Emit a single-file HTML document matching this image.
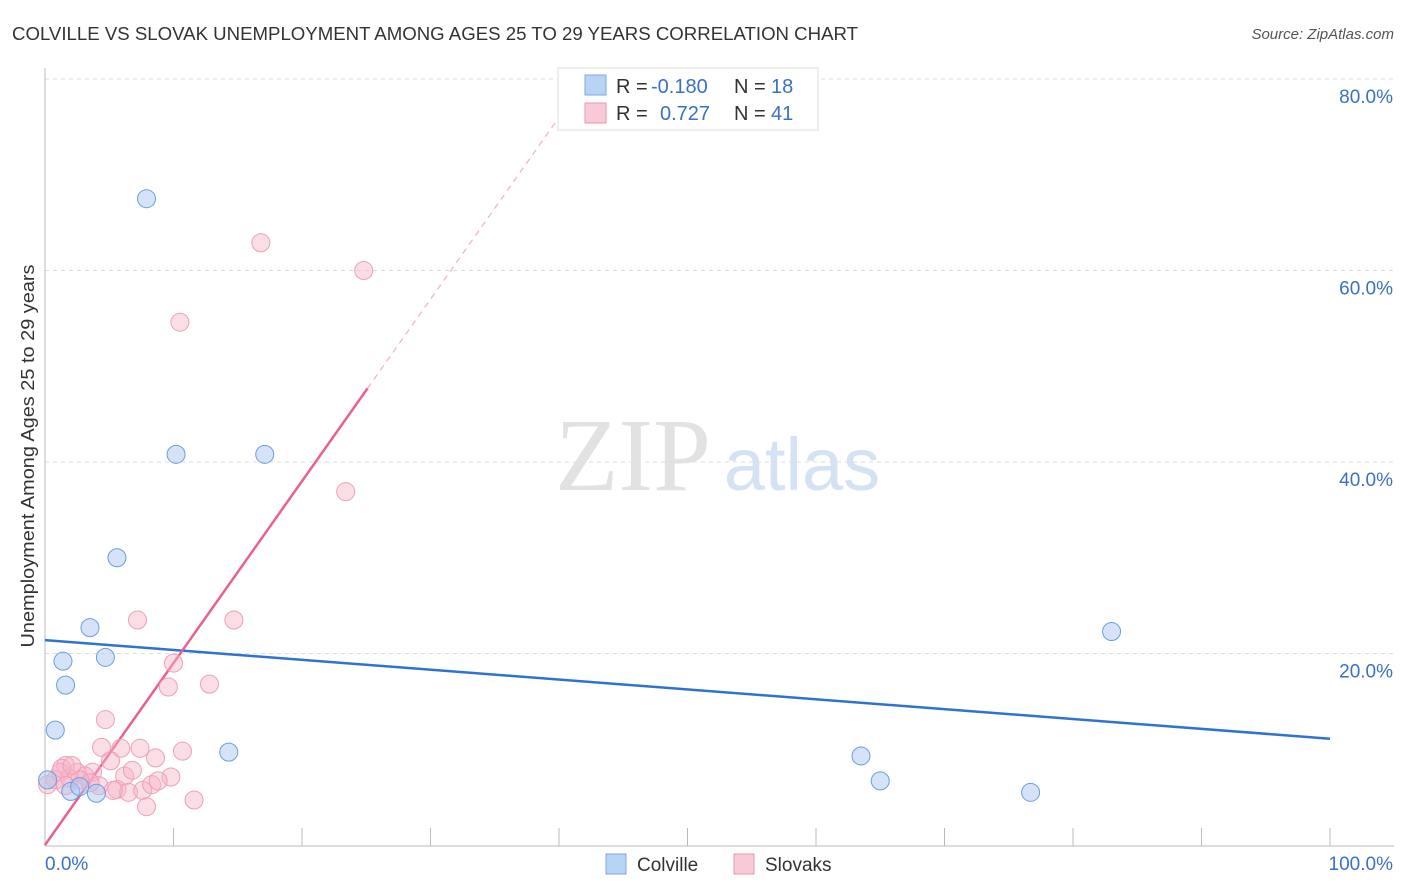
<!DOCTYPE html>
<html><head><meta charset="utf-8"><style>
body{margin:0;background:#fff;font-family:"Liberation Sans",sans-serif}
svg{display:block}
</style></head><body>
<svg id="chart" width="1406" height="892" xmlns="http://www.w3.org/2000/svg" font-family="Liberation Sans, sans-serif">
<text x="12" y="40" font-size="18" fill="#333" textLength="846" lengthAdjust="spacingAndGlyphs">COLVILLE VS SLOVAK UNEMPLOYMENT AMONG AGES 25 TO 29 YEARS CORRELATION CHART</text>
<text x="1394" y="39" font-size="15" fill="#555" font-style="italic" text-anchor="end">Source: ZipAtlas.com</text>
<text transform="translate(34,456) rotate(-90)" font-size="18" fill="#333" text-anchor="middle" textLength="383" lengthAdjust="spacingAndGlyphs">Unemployment Among Ages 25 to 29 years</text>
<g>
<text x="633" y="490" font-size="104" fill="#e2e2e2" font-family="Liberation Serif, serif" text-anchor="middle">ZIP</text>
<text x="802" y="490" font-size="74" fill="#d4e2f4" text-anchor="middle">atlas</text>
</g>
<g id="grid"></g><g id="axes"></g><g id="lines"></g><g id="pts"></g>
<g>
<rect x="558" y="68" width="260" height="62" fill="#fff" stroke="#ddd"/>
<rect x="585" y="75" width="21" height="20" fill="#b9d3f5" stroke="#7aa7e6"/>
<text x="616" y="93" font-size="20" fill="#333">R = </text><text x="651" y="93" font-size="20" fill="#3a70c8">-0.180</text>
<text x="734" y="93" font-size="20" fill="#333">N = </text><text x="771" y="93" font-size="20" fill="#3a70c8">18</text>
<rect x="585" y="103" width="21" height="20" fill="#f8c9d7" stroke="#ee93b0"/>
<text x="616" y="120" font-size="20" fill="#333">R = </text><text x="660" y="120" font-size="20" fill="#3a70c8">0.727</text>
<text x="734" y="120" font-size="20" fill="#333">N = </text><text x="771" y="120" font-size="20" fill="#3a70c8">41</text>
</g>
<g>
<rect x="606" y="854" width="20" height="20" fill="#b9d3f5" stroke="#7aa7e6"/>
<text x="637" y="871" font-size="19" fill="#333">Colville</text>
<rect x="734" y="854" width="20" height="20" fill="#f8c9d7" stroke="#ee93b0"/>
<text x="765" y="871" font-size="19" fill="#333">Slovaks</text>
</g>
</svg>
<script>
const colvilleX=[7.9,10.2,17.1,5.6,3.5,1.4,4.7,1.6,0.8,14.3,63.5,65.0,76.7,83.0,0.2,2.0,2.7,4.0];
const colvilleY=[67.5,40.8,40.8,30.0,22.7,19.2,19.6,16.7,12.0,9.7,9.3,6.7,5.5,22.3,6.8,5.6,6.1,5.4];
const slovakX=[16.8,24.8,10.5,23.4,7.2,14.7,10.0,9.6,12.8,4.7,4.4,5.9,7.4,10.7,5.1,8.6,6.2,6.8,9.8,3.7,1.6,1.2,2.5,3.1,4.2,5.6,6.5,7.6,8.3,8.8,11.6,7.9,0.8,0.2,1.9,5.3,3.5,2.7,1.3,2.1,1.6];
const slovakY=[62.9,60.0,54.6,36.9,23.5,23.5,19.0,16.5,16.8,13.1,10.2,10.1,10.1,9.8,8.8,9.1,7.2,7.8,7.1,7.6,8.3,7.6,7.6,7.2,6.2,5.8,5.5,5.7,6.3,6.7,4.7,4.0,6.8,6.3,7.0,5.7,6.5,6.8,8.0,8.3,6.2];
const colvilleTrend=[21.4,11.1]; // y at x=0, y at x=100
const slovakTrend=[0,1.9]; // intercept, slope per %
const yTicks=[20,40,60,80];
const yTickLabels=["20.0%","40.0%","60.0%","80.0%"];
const xTicks=[10,20,30,40,50,60,70,80,90,100];
const NS='http://www.w3.org/2000/svg';
const X=v=>45+v*12.85, Y=v=>845-v*9.575;
function mk(t,a,p){const e=document.createElementNS(NS,t);for(const k in a)e.setAttribute(k,a[k]);document.getElementById(p).appendChild(e);return e;}
yTicks.forEach((t,i)=>{
 const g=mk('line',{x1:45,x2:1394,y1:Y(t),y2:Y(t),stroke:'#ddd','stroke-dasharray':'4,4'},'grid');
 
 
 const l=mk('text',{x:1393,y:Y(t)+24,'font-size':19,fill:'#3a70c8','text-anchor':'end'},'axes');
 l.textContent=yTickLabels[i];
 
 
});
mk('line',{x1:45,x2:45,y1:68,y2:846,stroke:'#bbb'},'axes');
mk('line',{x1:45,x2:1394,y1:846,y2:846,stroke:'#bbb'},'axes');
xTicks.forEach(t=>{const e=mk('line',{x1:X(t),x2:X(t),y1:828,y2:846,stroke:'#bbb'},'axes');
 
 });
let a=mk('text',{x:45,y:870,'font-size':19,fill:'#3a70c8'},'axes');a.textContent='0.0%';


a=mk('text',{x:1393,y:870,'font-size':19,fill:'#3a70c8','text-anchor':'end'},'axes');a.textContent='100.0%';


slovakX.forEach((x,i)=>{const c=mk('circle',{cx:X(x),cy:Y(slovakY[i]),r:9,fill:'rgba(246,180,200,0.45)',stroke:'#eea0b8','stroke-width':1},'pts');
 
 });
colvilleX.forEach((x,i)=>{const c=mk('circle',{cx:X(x),cy:Y(colvilleY[i]),r:9,fill:'rgba(170,200,240,0.5)',stroke:'#6d9de0','stroke-width':1},'pts');
 
 });
let l=mk('line',{x1:X(0),y1:Y(colvilleTrend[0]),x2:X(100),y2:Y(colvilleTrend[1]),stroke:'#2f72d4','stroke-width':2.5},'lines');


const ps=slovakTrend[0], sl=slovakTrend[1], xs=25.1, xe=(79-ps)/sl;
l=mk('line',{x1:X(0),y1:Y(ps),x2:X(xs),y2:Y(ps+sl*xs),stroke:'#e8628c','stroke-width':2.5},'lines');


l=mk('line',{x1:X(xs),y1:Y(ps+sl*xs),x2:X(xe),y2:Y(79),stroke:'#f0b0c4','stroke-width':1.2,'stroke-dasharray':'6,5'},'lines');


</script>
</body></html>
